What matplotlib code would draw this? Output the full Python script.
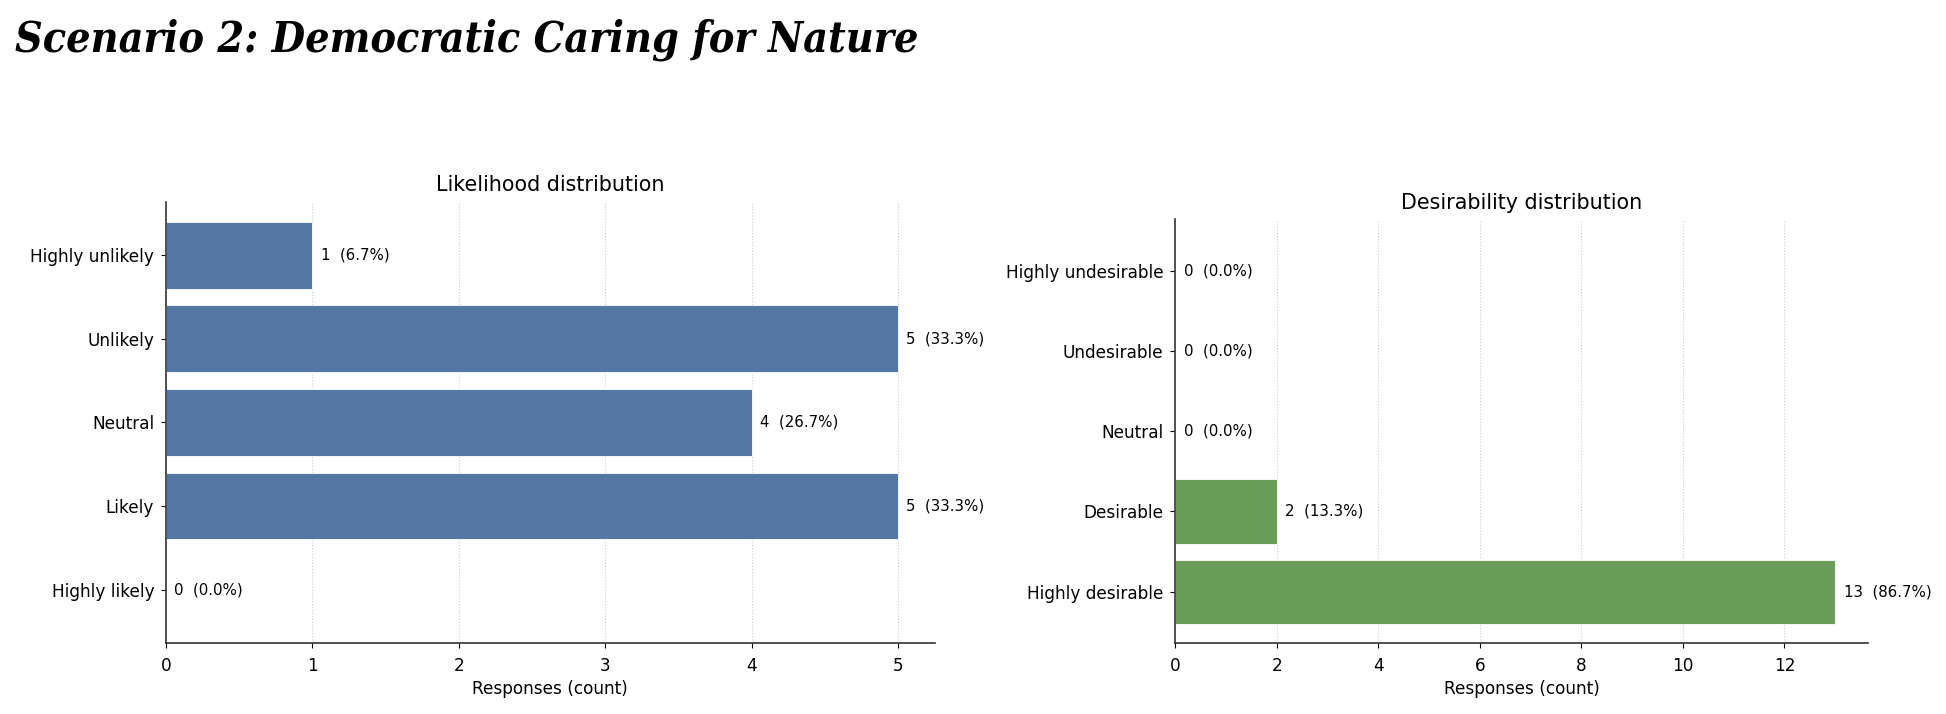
import matplotlib
matplotlib.use("Agg")
import matplotlib.pyplot as plt
import numpy as np

likelihood_labels = ["Highly unlikely", "Unlikely", "Neutral", "Likely", "Highly likely"]
likelihood_counts = [1, 5, 4, 5, 0]

desirability_labels = ["Highly undesirable", "Undesirable", "Neutral", "Desirable", "Highly desirable"]
desirability_counts = [0, 0, 0, 2, 13]

blue = "#5577a3"
green = "#6a9e58"


def draw_dist(ax, labels, counts, color, title):
    total = sum(counts)
    y = np.arange(len(labels))
    ax.barh(y, counts, height=0.8, color=color, edgecolor="white", linewidth=0.6, zorder=2)
    ax.set_yticks(y)
    ax.set_yticklabels(labels, fontsize=12.2)
    ax.invert_yaxis()
    for yi, c in zip(y, counts):
        pct = 100.0 * c / total
        ax.annotate("%d  (%.1f%%)" % (c, pct), xy=(c, yi), xytext=(6, 0),
                    textcoords="offset points", va="center", ha="left", fontsize=10.8)
    ax.set_xlabel("Responses (count)", fontsize=12.2, labelpad=4)
    ax.set_title(title, fontsize=14.9, pad=7.5)
    ax.grid(axis="x", linestyle=":", color="#cccccc", linewidth=0.8, zorder=0)
    ax.set_axisbelow(True)
    ax.spines["top"].set_visible(False)
    ax.spines["right"].set_visible(False)
    for s in ["left", "bottom"]:
        ax.spines[s].set_color("#333333")
        ax.spines[s].set_linewidth(1.2)
    ax.tick_params(axis="x", labelsize=12.2, pad=6.5)
    ax.tick_params(axis="y", pad=5)


fig = plt.figure(figsize=(19.46, 7.14), dpi=100)

ax1 = fig.add_axes([0.0853, 0.0994, 0.395, 0.618])
draw_dist(ax1, likelihood_labels, likelihood_counts, blue, "Likelihood distribution")

ax2 = fig.add_axes([0.604, 0.0994, 0.356, 0.5935])
draw_dist(ax2, desirability_labels, desirability_counts, green, "Desirability distribution")

fig.text(0.0077, 0.944, "Scenario 2: Democratic Caring for Nature", fontsize=30.8,
         family="DejaVu Serif", style="italic", weight="bold", stretch="condensed",
         va="center", ha="left")

fig.savefig("out.png", dpi=100)
